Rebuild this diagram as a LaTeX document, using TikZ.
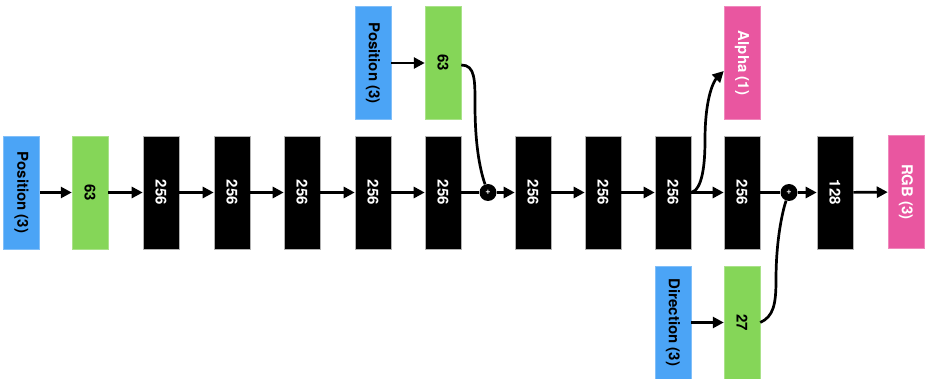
\documentclass[tikz,border=0pt]{standalone}
\usepackage{fontspec}
\setmainfont{TeX Gyre Heros}
\usetikzlibrary{arrows.meta,calc}
\definecolor{cblue}{RGB}{75,164,246}
\definecolor{cgreen}{RGB}{133,214,88}
\definecolor{cpink}{RGB}{233,86,160}
\tikzset{
  box/.style={rectangle, minimum width=36pt, minimum height=113pt, inner sep=0pt, font=\fontsize{15}{15}\selectfont\bfseries},
  inbox/.style={box, fill=cblue, draw=cblue!70!white, line width=0.5pt, text=black},
  featbox/.style={box, fill=cgreen, draw=cgreen!70!white, line width=0.5pt, text=black},
  hidbox/.style={box, fill=black, draw=gray!60, line width=0.6pt, text=white},
  outbox/.style={box, fill=cpink, draw=cpink!70!white, line width=0.5pt, text=white},
  plusnode/.style={circle, fill=black, minimum size=17pt, inner sep=0pt, text=white, font=\fontsize{9}{9}\selectfont\bfseries},
  conn/.style={line width=2.7pt, black},
  arr/.style={conn, -{Triangle[length=11pt,width=11pt]}},
}
\newcommand{\rt}[1]{\rotatebox{-90}{#1}}
\begin{document}
\begin{tikzpicture}[x=1pt,y=-1pt]
\useasboundingbox (0,0) rectangle (928,379);
% main row
\node[inbox]  (pos)  at (21.5,192.5) {\rt{Position (3)}};
\node[featbox](g1)   at (90,192.5)   {\rt{63}};
\node[hidbox] (b1)   at (161,192.5)  {\rt{256}};
\node[hidbox] (b2)   at (232,192.5)  {\rt{256}};
\node[hidbox] (b3)   at (302,192.5)  {\rt{256}};
\node[hidbox] (b4)   at (373,192.5)  {\rt{256}};
\node[hidbox] (b5)   at (443,192.5)  {\rt{256}};
\node[plusnode](p1)  at (488,192.5)  {+};
\node[hidbox] (b6)   at (533,192.5)  {\rt{256}};
\node[hidbox] (b7)   at (603,192.5)  {\rt{256}};
\node[hidbox] (b8)   at (673,192.5)  {\rt{256}};
\node[hidbox] (b9)   at (742,192.5)  {\rt{256}};
\node[plusnode](p2)  at (789,192.5)  {+};
\node[hidbox] (b10)  at (835,192.5)  {\rt{128}};
\node[outbox] (rgb)  at (906,192)    {\rt{RGB (3)}};
% top row
\node[inbox]  (pos2) at (373,63) {\rt{Position (3)}};
\node[featbox](g2)   at (443,63) {\rt{63}};
\node[outbox] (alpha) at (742,63) {\rt{Alpha (1)}};
% bottom row
\node[inbox]  (dir)  at (673,322.5) {\rt{Direction (3)}};
\node[featbox](g3)   at (742,322.5) {\rt{27}};
% straight connectors
\draw[arr] (pos) -- (g1);
\draw[arr] (g1) -- (b1);
\draw[arr] (b1) -- (b2);
\draw[arr] (b2) -- (b3);
\draw[arr] (b3) -- (b4);
\draw[arr] (b4) -- (b5);
\draw[conn] (b5) -- (p1);
\draw[arr] (p1) -- (b6);
\draw[arr] (b6) -- (b7);
\draw[arr] (b7) -- (b8);
\draw[arr] (b8) -- (b9);
\draw[conn] (b9) -- (p2);
\draw[arr] (p2) -- (b10);
\draw[arr] (b10) -- (rgb);
\draw[arr] (pos2) -- (g2);
\draw[arr] (dir) -- (g3);
% curved connectors
\draw[conn] ($(g2.east)+(0,2)$) .. controls +(14,0) and +(0,-25) .. (475,105) .. controls +(0,50) and +(-5,-14) .. (p1);
\draw[arr] (b8.east) .. controls +(11,-3) and +(0,25) .. (705,140) .. controls +(0,-45) and +(-9,9) .. ($(alpha.west)+(0,8)$);
\draw[conn] (g3.east) .. controls +(13,-6) and +(0,25) .. (776,280) .. controls +(0,-45) and +(-5,14) .. (p2);
\end{tikzpicture}
\end{document}
